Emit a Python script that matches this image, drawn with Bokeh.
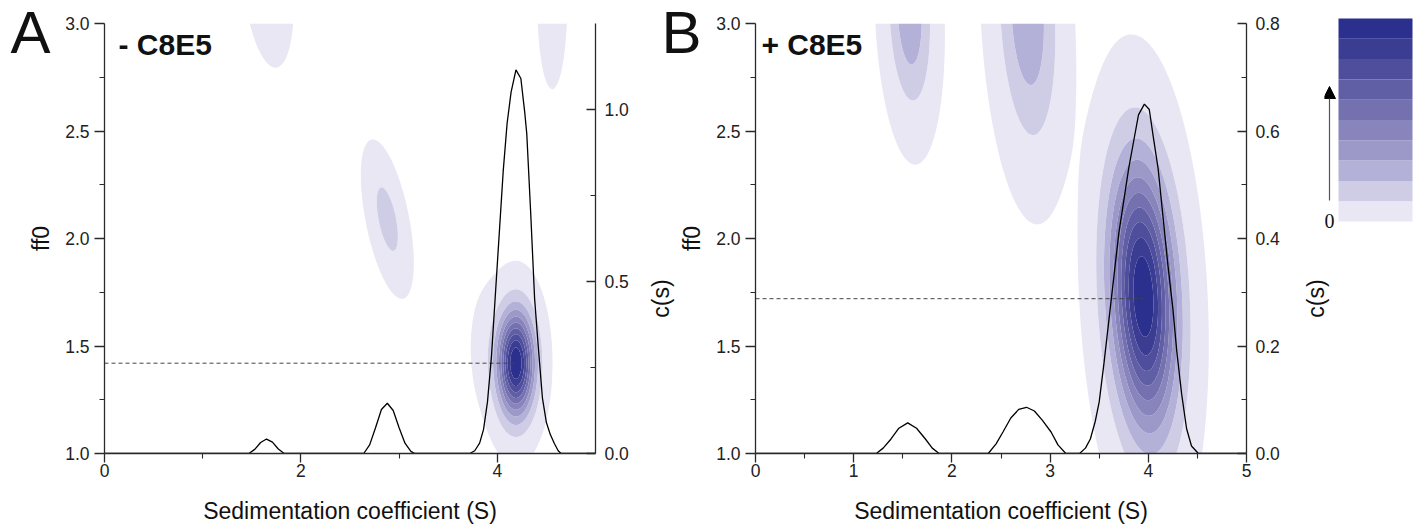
import numpy as np
from bokeh.plotting import figure
from bokeh.models import (Range1d, LinearAxis, FixedTicker, PrintfTickFormatter,
                          Label, Arrow, NormalHead, GridBox)
from bokeh.embed import file_html
from bokeh.resources import INLINE

# ---------------- data ----------------
# contour colour bands (lowest -> highest) and relative levels
band_colors = ["#e8e7f3", "#cfcde6", "#b4b1d8", "#9c99c9", "#8885bc",
               "#7571b0", "#605fa6", "#4f4e9c", "#3b3d92", "#2b2f8e"]
band_levels = [0.012, 0.1, 0.2, 0.3, 0.4, 0.5, 0.6, 0.7, 0.8, 0.9, 5.0]

# Panel A (- C8E5): c(s, ff0) peaks
A_peak_s = [4.19, 3.90, 2.88, 1.66, 4.56]
A_peak_ff0 = [1.42, 1.50, 2.09, 3.20, 3.10]
A_peak_amp = [1.00, 0.03, 0.15, 0.05, 0.05]
A_peak_sig_s = [0.125, 0.12, 0.10, 0.15, 0.09]
A_peak_sig_ff0 = [0.16, 0.18, 0.165, 0.24, 0.24]
A_peak_tilt = [0.0, 0.0, 0.4, 0.2, 0.0]

# Panel B (+ C8E5)
B_peak_s = [3.95, 2.77, 1.57]
B_peak_ff0 = [1.73, 3.05, 3.05]
B_peak_amp = [1.00, 0.29, 0.29]
B_peak_sig_s = [0.22, 0.19, 0.14]
B_peak_sig_ff0 = [0.41, 0.39, 0.28]
B_peak_tilt = [0.10, 0.10, 0.08]

# c(s) distributions
A_cs_s = [0.0, 1.47, 1.53, 1.59, 1.65, 1.71, 1.77, 1.83,
          2.64, 2.70, 2.76, 2.82, 2.88, 2.94, 3.00, 3.06, 3.12, 3.16,
          3.72, 3.77, 3.82, 3.86, 3.90, 3.94, 3.98, 4.02, 4.06, 4.10, 4.14,
          4.19, 4.24, 4.28, 4.30, 4.34, 4.38, 4.42, 4.46, 4.50, 4.54, 4.58,
          4.62, 4.65, 5.0]
A_cs = [0.0, 0.0, 0.012, 0.032, 0.042, 0.033, 0.013, 0.0,
        0.0, 0.025, 0.075, 0.128, 0.146, 0.125, 0.075, 0.030, 0.006, 0.0,
        0.0, 0.008, 0.030, 0.070, 0.150, 0.280, 0.460, 0.640, 0.820, 0.960, 1.050,
        1.115, 1.090, 0.990, 0.930, 0.700, 0.450, 0.300, 0.160, 0.090, 0.055, 0.030,
        0.008, 0.0, 0.0]

B_cs_s = [0.0, 1.23, 1.30, 1.38, 1.46, 1.55, 1.64, 1.73, 1.80, 1.87,
          2.37, 2.45, 2.52, 2.60, 2.68, 2.76, 2.84, 2.92, 3.01, 3.08, 3.16,
          3.30, 3.36, 3.41, 3.46, 3.50, 3.55, 3.60, 3.65, 3.70, 3.75, 3.80,
          3.85, 3.90, 3.96, 4.01, 4.05, 4.10, 4.15, 4.20, 4.25, 4.29, 4.34,
          4.39, 4.44, 4.51, 5.0]
B_cs = [0.0, 0.0, 0.010, 0.027, 0.047, 0.057, 0.047, 0.027, 0.010, 0.0,
        0.0, 0.018, 0.040, 0.066, 0.082, 0.086, 0.079, 0.062, 0.040, 0.016, 0.0,
        0.0, 0.010, 0.027, 0.060, 0.096, 0.170, 0.250, 0.330, 0.410, 0.470, 0.530,
        0.580, 0.630, 0.650, 0.640, 0.590, 0.530, 0.440, 0.350, 0.270, 0.190, 0.110,
        0.046, 0.014, 0.0, 0.0]

# weight-average ff0 markers (dashed lines)
A_ff0_avg, A_ff0_s_end = 1.42, 4.18
B_ff0_avg, B_ff0_s_end = 1.72, 3.95

A_x_ticks, A_x_minor = [0, 2, 4], [1, 3]
B_x_ticks, B_x_minor = [0, 1, 2, 3, 4, 5], [0.5, 1.5, 2.5, 3.5, 4.5]
ff0_ticks, ff0_minor = [1.0, 1.5, 2.0, 2.5, 3.0], [1.25, 1.75, 2.25, 2.75]
A_cs_ticks, A_cs_minor, A_cs_max = [0.0, 0.5, 1.0], [0.25, 0.75], 1.25
B_cs_ticks, B_cs_minor, B_cs_max = [0.0, 0.2, 0.4, 0.6, 0.8], [0.1, 0.3, 0.5, 0.7], 0.8

X_TITLE = "Sedimentation coefficient (S)"
FONT = "Liberation Sans"
AX_COLOR = "#2a2a2a"
TXT = "#111111"
H = 525
FRAME_TOP, FRAME_BOTTOM = 23, 453
WA, WB, WC = 668, 656, 90


def density(ps, pf, amp, ss, sf, tilt):
    s = np.linspace(0, 5, 251)
    f = np.linspace(1, 3, 201)
    S, F = np.meshgrid(s, f)
    Z = np.zeros_like(S)
    for s0, f0, a, gs, gf, k in zip(ps, pf, amp, ss, sf, tilt):
        sp = S - s0 + k * (F - f0)
        Z += a * np.exp(-0.5 * ((sp / gs) ** 2 + ((F - f0) / gf) ** 2))
    return S, F, Z


def no_align(fig):
    if "frame_align" in fig.properties():
        fig.frame_align = False


def bare(width, x0, x1):
    f = figure(width=width, height=H, x_range=Range1d(x0, x1), y_range=Range1d(H, 0),
               output_backend="svg", toolbar_location=None,
               x_axis_location=None, y_axis_location=None,
               min_border=0, min_border_left=0, min_border_right=0,
               min_border_top=0, min_border_bottom=0,
               background_fill_color=None, border_fill_color=None)
    no_align(f)
    f.grid.visible = False
    f.outline_line_color = None
    return f


def style_axis(ax, ticks, minor, fmt, t_in, t_out, m_in, m_out, standoff):
    ax.ticker = FixedTicker(ticks=ticks, minor_ticks=minor)
    ax.formatter = PrintfTickFormatter(format=fmt)
    ax.major_label_text_font = FONT
    ax.major_label_text_font_size = "17.5px"
    ax.major_label_text_color = "#222222"
    ax.major_label_standoff = standoff
    ax.axis_line_color = AX_COLOR
    ax.axis_line_width = 1.3
    ax.major_tick_line_color = AX_COLOR
    ax.major_tick_line_width = 1.3
    ax.minor_tick_line_color = AX_COLOR
    ax.minor_tick_line_width = 1.1
    ax.major_tick_in, ax.major_tick_out = t_in, t_out
    ax.minor_tick_in, ax.minor_tick_out = m_in, m_out
    ax.axis_label_text_font = FONT
    ax.axis_label_text_font_size = "23px"
    ax.axis_label_text_font_style = "normal"
    ax.axis_label_text_color = TXT


def panel(width, b_left, b_right, peaks, cs_s, cs, ff0_avg, s_end, xt, xm,
          cs_ticks, cs_minor, cs_max, tag, tag_x):
    p = figure(width=width, height=H, x_range=Range1d(0, 5), y_range=Range1d(1, 3),
               output_backend="svg", toolbar_location=None,
               min_border_left=b_left, min_border_right=b_right,
               min_border_top=FRAME_TOP, min_border_bottom=H - FRAME_BOTTOM)
    p.extra_y_ranges = {"cs": Range1d(0, cs_max)}
    p.grid.visible = False
    p.outline_line_color = None

    S, F, Z = density(*peaks)
    p.contour(x=S, y=F, z=Z, levels=band_levels, fill_color=band_colors,
              line_color=None)

    p.line(x=[0, s_end], y=[ff0_avg, ff0_avg], line_color="#444444",
           line_width=1, line_dash="4 3")
    p.line(x=cs_s, y=cs, y_range_name="cs", line_color="black", line_width=1.3)

    style_axis(p.xaxis[0], xt, xm, "%d", 0, 9, 0, 5, 1)
    style_axis(p.yaxis[0], ff0_ticks, ff0_minor, "%.1f", 0, 10, 0, 5, 5)
    p.yaxis[0].axis_label = "ff0"
    p.yaxis[0].axis_label_standoff = 8
    rax = LinearAxis(y_range_name="cs")
    style_axis(rax, cs_ticks, cs_minor, "%.1f", 9, 0, 5, 0, 9)
    p.add_layout(rax, "right")

    p.add_layout(Label(x=tag_x, y=2.902, text=tag, text_font_size="30px",
                       text_font_style="bold", text_baseline="middle",
                       text_align="left", text_font=FONT, text_color=TXT))
    return p


pA = panel(WA, 104, 73,
           (A_peak_s, A_peak_ff0, A_peak_amp, A_peak_sig_s, A_peak_sig_ff0, A_peak_tilt),
           A_cs_s, A_cs, A_ff0_avg, A_ff0_s_end, A_x_ticks, A_x_minor,
           A_cs_ticks, A_cs_minor, A_cs_max, "- C8E5", 0.143)

pB = panel(WB, 87, 78,
           (B_peak_s, B_peak_ff0, B_peak_amp, B_peak_sig_s, B_peak_sig_ff0, B_peak_tilt),
           B_cs_s, B_cs, B_ff0_avg, B_ff0_s_end, B_x_ticks, B_x_minor,
           B_cs_ticks, B_cs_minor, B_cs_max, "+ C8E5", 0.06)

# ---------------- colour scale ----------------
pc = bare(WC, 0, WC)
bar_top, bar_bottom, bar_left, bar_right = 18.0, 221.0, 14.0, 88.0
edges = np.linspace(bar_bottom, bar_top, len(band_colors) + 1)
pc.quad(left=bar_left, right=bar_right, bottom=edges[:-1], top=edges[1:],
        fill_color=band_colors, line_color=None)
pc.add_layout(Arrow(end=NormalHead(size=12, fill_color="black", line_color="black"),
                    x_start=5, y_start=200, x_end=5, y_end=86,
                    line_color="#555555", line_width=1.2))
pc.add_layout(Label(x=5, y=220, text="0", text_font="Liberation Serif",
                    text_font_size="20px", text_align="center",
                    text_baseline="middle", text_color=TXT))

# ---------------- free texts (panel letters, titles) over the whole row ----------------
ov = bare(WA + WB + WC, 0, WA + WB + WC)
txt = dict(text_font=FONT, text_color=TXT)
ov.add_layout(Label(x=10, y=31.5, text="A", text_font_size="60px",
                    text_baseline="middle", text_align="left", **txt))
ov.add_layout(Label(x=661, y=31.5, text="B", text_font_size="60px",
                    text_baseline="middle", text_align="left", **txt))
for cx in (660, 1315):
    ov.add_layout(Label(x=cx, y=298, text="c(s)", angle=np.pi / 2,
                        text_font_size="23px", text_align="center",
                        text_baseline="middle", **txt))
for cx in (349.5, 1000.5):
    ov.add_layout(Label(x=cx, y=510, text=X_TITLE, text_font_size="23px",
                        text_align="center", text_baseline="middle", **txt))

layout = GridBox(children=[(pA, 0, 0), (pB, 0, 1), (pc, 0, 2), (ov, 0, 0, 1, 3)])
open("out.html", "w").write(file_html(layout, INLINE))
